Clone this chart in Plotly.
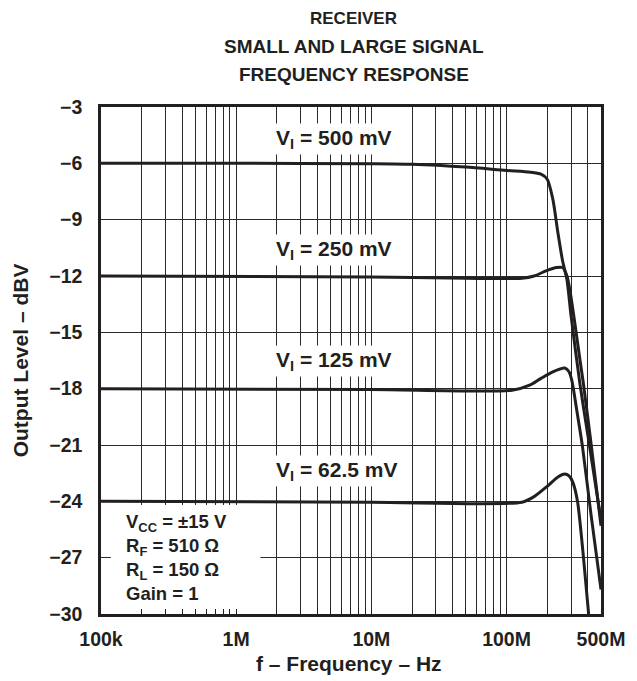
import plotly.graph_objects as go

# ---- data ----
freq_500 = [1e5, 1e6, 1e7, 2e7, 5e7, 1e8, 1.5e8, 1.8e8, 2e8, 2.2e8, 2.4e8, 2.6e8, 2.8e8, 3e8, 3.5e8, 4e8, 5e8]
lvl_500 = [-6.0, -6.0, -6.02, -6.05, -6.2, -6.38, -6.47, -6.58, -6.85, -7.9, -9.7, -11.2, -12.2, -14.1, -17.8, -20.5, -25.0]

freq_250 = [1e5, 1e7, 5e7, 1.3e8, 1.6e8, 2e8, 2.35e8, 2.6e8, 2.8e8, 2.95e8, 3.2e8, 3.5e8, 3.7e8, 4.2e8, 5e8]
lvl_250 = [-12.0, -12.05, -12.12, -12.12, -12.0, -11.7, -11.55, -11.55, -12.0, -12.8, -14.5, -16.5, -17.7, -20.8, -25.3]

freq_125 = [1e5, 1e7, 1.1e8, 1.5e8, 1.8e8, 2.2e8, 2.7e8, 2.9e8, 3.05e8, 3.3e8, 3.65e8, 4.2e8, 5e8]
lvl_125 = [-18.0, -18.05, -18.08, -17.8, -17.45, -17.1, -16.9, -17.1, -17.6, -19.1, -21.1, -24.6, -28.7]

freq_62 = [1e5, 1e7, 1.3e8, 1.6e8, 2e8, 2.4e8, 2.7e8, 2.9e8, 3.1e8, 3.35e8, 3.7e8, 4.05e8]
lvl_62 = [-24.0, -24.05, -24.05, -23.75, -23.2, -22.7, -22.55, -22.65, -23.0, -24.0, -26.9, -30.0]

series_labels = ["V<sub>I</sub> = 500 mV", "V<sub>I</sub> = 250 mV",
                 "V<sub>I</sub> = 125 mV", "V<sub>I</sub> = 62.5 mV"]

y_ticks = [-3, -6, -9, -12, -15, -18, -21, -24, -27, -30]
y_ticktext = ["\u22123", "\u22126", "\u22129", "\u221212", "\u221215",
              "\u221218", "\u221221", "\u221224", "\u221227", "\u221230"]

x_label_vals = [1e5, 1e6, 1e7, 1e8, 5e8]
x_label_text = ["100k", "1M", "10M", "100M", "500M"]

conditions = ["V<sub>CC</sub> = \u00b115 V", "R<sub>F</sub> = 510 \u03a9",
              "R<sub>L</sub> = 150 \u03a9", "Gain = 1"]

title_lines = ["RECEIVER", "SMALL AND LARGE SIGNAL", "FREQUENCY RESPONSE"]

# ---- grid positions (1..9 per decade) ----
grid_vals = []
for dec in [1e5, 1e6, 1e7, 1e8]:
    for m in range(1, 10):
        v = dec * m
        if v <= 5e8:
            grid_vals.append(v)
grid_text = []
for v in grid_vals:
    lbl = ""
    for lv, lt in zip(x_label_vals, x_label_text):
        if abs(v - lv) / lv < 1e-9:
            lbl = lt
    grid_text.append(lbl)

FONT = "Liberation Sans, Arial, Helvetica, sans-serif"
INK = "#231f20"

# page body has an 8px margin: the figure starts at (8, 8) in the window
OFF = 8
W, H = 637 - OFF, 681 - OFF
L, R, T, B = 101 - OFF, 637 - 609, 107 - OFF, 681 - 614
PW = W - L - R
PH = H - T - B


def px(xw):
    """window x pixel -> paper x"""
    return (xw - OFF - L) / PW


def py(yw):
    """window y pixel -> paper y"""
    return (H - B - (yw - OFF)) / PH


fig = go.Figure()
for fx, fy in [(freq_500, lvl_500), (freq_250, lvl_250), (freq_125, lvl_125), (freq_62, lvl_62)]:
    fig.add_trace(go.Scatter(x=fx, y=fy, mode="lines",
                             line=dict(color=INK, width=3, shape="spline", smoothing=0.7),
                             showlegend=False, hoverinfo="skip"))

fig.update_layout(
    width=W, height=H,
    margin=dict(l=L, r=R, t=T, b=B),
    paper_bgcolor="white", plot_bgcolor="white",
    font=dict(family=FONT, color=INK),
    showlegend=False,
)

fig.update_xaxes(
    type="log", range=[5, 8.69897],
    tickmode="array", tickvals=grid_vals, ticktext=grid_text,
    showgrid=True, gridcolor="#2a2a2a", gridwidth=1,
    ticks="inside", ticklen=5, tickcolor=INK, tickwidth=1,
    showline=True, linecolor=INK, linewidth=2.5, mirror=True,
    tickfont=dict(family=FONT, size=19.5, color=INK, weight="bold"),
    ticklabelstandoff=6,
    zeroline=False,
)
fig.update_yaxes(
    range=[-30, -3],
    tickmode="array", tickvals=y_ticks, ticktext=y_ticktext,
    showgrid=True, gridcolor="#2a2a2a", gridwidth=1,
    ticks="", showline=True, linecolor=INK, linewidth=2.5, mirror=True,
    tickfont=dict(family=FONT, size=19.5, color=INK, weight="bold"),
    ticklabelstandoff=12,
    zeroline=False,
)

ann = []
# title
for txt, ypx, sz in zip(title_lines, [18, 46, 75], [17, 19, 19]):
    ann.append(dict(text=txt, xref="paper", yref="paper", x=px(358), y=py(ypx),
                    xanchor="center", yanchor="middle", showarrow=False,
                    font=dict(family=FONT, size=sz, color=INK, weight="bold")))
# axis titles
ann.append(dict(text="f \u2013 Frequency \u2013 Hz", xref="paper", yref="paper",
                x=px(353), y=py(663), xanchor="center", yanchor="middle", showarrow=False,
                font=dict(family=FONT, size=21, color=INK, weight="bold")))
ann.append(dict(text="Output Level \u2013 dBV", xref="paper", yref="paper",
                x=px(19), y=py(360), xanchor="center", yanchor="middle", showarrow=False,
                textangle=-90, font=dict(family=FONT, size=21, color=INK, weight="bold")))
# curve labels
for txt, ypx in zip(series_labels, [139, 250, 361, 471]):
    ann.append(dict(text=txt, xref="paper", yref="paper",
                    x=px(276), y=py(ypx),
                    xanchor="left", yanchor="middle", showarrow=False,
                    bgcolor="white", borderpad=2,
                    font=dict(family=FONT, size=21, color=INK, weight="bold")))
# conditions box
ann.append(dict(text="<br>".join(conditions), xref="paper", yref="paper",
                x=px(124), y=py(557),
                xanchor="left", yanchor="middle", align="left", showarrow=False,
                font=dict(family=FONT, size=18.5, color=INK, weight="bold")))
fig.update_layout(annotations=ann)

fig.add_shape(type="rect", xref="paper", yref="paper",
              x0=px(111), x1=px(263),
              y0=py(609), y1=py(505),
              fillcolor="white", line=dict(width=0), layer="above")

fig.write_html("out.html")
